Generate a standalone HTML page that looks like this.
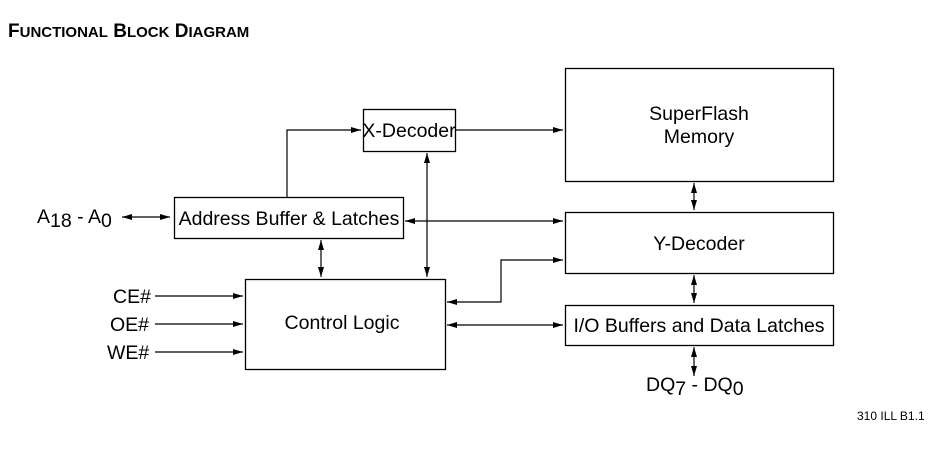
<!DOCTYPE html>
<html><head><style>
body{margin:0;background:#fff;}
svg text{font-family:"Liberation Sans",Arial,sans-serif;fill:#000;}
</style></head><body>
<svg width="937" height="446" viewBox="0 0 937 446" xmlns="http://www.w3.org/2000/svg">
<defs>
<marker id="a" viewBox="0 0 10 6" refX="10" refY="3" markerWidth="10" markerHeight="6" orient="auto-start-reverse" markerUnits="userSpaceOnUse"><path d="M0,0L10,3L0,6z" fill="#000"/></marker>
</defs>
<text x="8" y="37" font-size="19" font-weight="bold">F<tspan font-size="15">UNCTIONAL</tspan> B<tspan font-size="15">LOCK</tspan> D<tspan font-size="15">IAGRAM</tspan></text>
<g fill="none" stroke="#000" stroke-width="1.3">
<rect x="363.5" y="109.5" width="92" height="42"/>
<rect x="565.5" y="68.5" width="268" height="113"/>
<rect x="565.5" y="212.5" width="268" height="61"/>
<rect x="565.5" y="305.5" width="268" height="40"/>
<rect x="174.5" y="197.5" width="229" height="41"/>
<rect x="245.5" y="279.5" width="200" height="90"/>
</g>
<g fill="none" stroke="#000" stroke-width="1.2">
<polyline points="287,197 287,130 361,130" marker-end="url(#a)"/>
<line x1="456" y1="130" x2="563" y2="130" marker-end="url(#a)"/>
<line x1="427" y1="153" x2="427" y2="277" marker-start="url(#a)" marker-end="url(#a)"/>
<line x1="405" y1="221" x2="563" y2="221" marker-start="url(#a)" marker-end="url(#a)"/>
<polyline points="447,302 501,302 501,260 563,260" marker-start="url(#a)" marker-end="url(#a)"/>
<line x1="447" y1="325" x2="563" y2="325" marker-start="url(#a)" marker-end="url(#a)"/>
<line x1="321" y1="240" x2="321" y2="277" marker-start="url(#a)" marker-end="url(#a)"/>
<line x1="155" y1="296" x2="243" y2="296" marker-end="url(#a)"/>
<line x1="155" y1="324" x2="243" y2="324" marker-end="url(#a)"/>
<line x1="155" y1="352" x2="243" y2="352" marker-end="url(#a)"/>
<line x1="122" y1="217" x2="170" y2="217" marker-start="url(#a)" marker-end="url(#a)"/>
<line x1="694" y1="183" x2="694" y2="210" marker-start="url(#a)" marker-end="url(#a)"/>
<line x1="694" y1="275" x2="694" y2="303" marker-start="url(#a)" marker-end="url(#a)"/>
<line x1="694" y1="347" x2="694" y2="376" marker-start="url(#a)" marker-end="url(#a)"/>
</g>
<g font-size="19.5">
<text x="409" y="137" text-anchor="middle">X-Decoder</text>
<text x="699" y="120" text-anchor="middle">SuperFlash</text>
<text x="699" y="143" text-anchor="middle">Memory</text>
<text x="699" y="250" text-anchor="middle">Y-Decoder</text>
<text x="699" y="332" text-anchor="middle">I/O Buffers and Data Latches</text>
<text x="289" y="225" text-anchor="middle">Address Buffer &amp; Latches</text>
<text x="342" y="329" text-anchor="middle">Control Logic</text>
<text x="113" y="303">CE#</text>
<text x="110" y="331">OE#</text>
<text x="107" y="359">WE#</text>
<text x="37" y="223">A<tspan dy="4">18</tspan><tspan dy="-4"> - A</tspan><tspan dy="4">0</tspan></text>
<text x="646" y="391">DQ<tspan dy="4">7</tspan><tspan dy="-4"> - DQ</tspan><tspan dy="4">0</tspan></text>
</g>
<text x="857" y="420" font-size="12">310 ILL B1.1</text>
</svg>
</body></html>
